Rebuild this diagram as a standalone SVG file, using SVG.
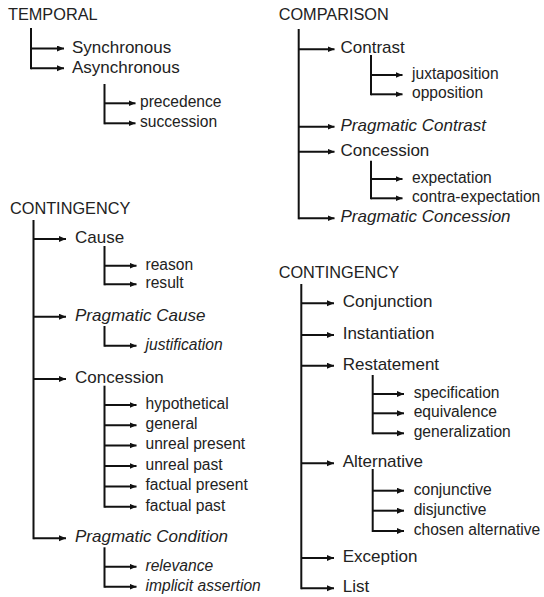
<svg xmlns="http://www.w3.org/2000/svg" width="544" height="597" viewBox="0 0 544 597">
<style>
text{font-family:"Liberation Sans",Arial,sans-serif;fill:#222}
.h{font-size:16.3px}
.m{font-size:17px}
.s{font-size:15.6px}
.i{font-style:italic}
.c path{fill:none;stroke:#111;stroke-width:2}
.c .v{stroke-linecap:square}
</style>
<defs>
<marker id="ah" markerUnits="userSpaceOnUse" markerWidth="8" markerHeight="7" refX="7" refY="3" orient="auto">
<path d="M0,0 L7,3 L0,6 z" fill="#111"/>
</marker>
</defs>
<rect width="544" height="597" fill="#fff"/>
<g class="c" id="connectors">
<!-- TEMPORAL -->
<path class="v" d="M31,29 V68.3"/>
<path d="M31,48.5 H64" marker-end="url(#ah)"/>
<path d="M31,68.3 H64" marker-end="url(#ah)"/>
<path class="v" d="M104.5,85 V123.3"/>
<path d="M104.5,103.3 H135.5" marker-end="url(#ah)"/>
<path d="M104.5,123.3 H135.5" marker-end="url(#ah)"/>
<!-- CONTINGENCY left -->
<path class="v" d="M33.5,221 V538.3"/>
<path d="M33.5,239 H66" marker-end="url(#ah)"/>
<path d="M33.5,316.7 H66" marker-end="url(#ah)"/>
<path d="M33.5,379 H66" marker-end="url(#ah)"/>
<path d="M33.5,538.3 H66" marker-end="url(#ah)"/>
<path class="v" d="M104.5,247 V284.3"/>
<path d="M104.5,265.7 H136.5" marker-end="url(#ah)"/>
<path d="M104.5,284.3 H136.5" marker-end="url(#ah)"/>
<path class="v" d="M104.5,327 V345.7"/>
<path d="M104.5,345.7 H136.5" marker-end="url(#ah)"/>
<path class="v" d="M104.5,386.7 V506.7"/>
<path d="M104.5,405 H136.5" marker-end="url(#ah)"/>
<path d="M104.5,425.3 H136.5" marker-end="url(#ah)"/>
<path d="M104.5,445.5 H136.5" marker-end="url(#ah)"/>
<path d="M104.5,466 H136.5" marker-end="url(#ah)"/>
<path d="M104.5,486.5 H136.5" marker-end="url(#ah)"/>
<path d="M104.5,506.7 H136.5" marker-end="url(#ah)"/>
<path class="v" d="M104.5,548.3 V586.7"/>
<path d="M104.5,566.7 H136.5" marker-end="url(#ah)"/>
<path d="M104.5,586.7 H136.5" marker-end="url(#ah)"/>
<!-- COMPARISON -->
<path class="v" d="M298.7,30 V218.3"/>
<path d="M298.7,49.3 H334.5" marker-end="url(#ah)"/>
<path d="M298.7,126.7 H334.5" marker-end="url(#ah)"/>
<path d="M298.7,151.7 H334.5" marker-end="url(#ah)"/>
<path d="M298.7,218.3 H334.5" marker-end="url(#ah)"/>
<path class="v" d="M371,56 V94.3"/>
<path d="M371,75 H402.5" marker-end="url(#ah)"/>
<path d="M371,94.3 H402.5" marker-end="url(#ah)"/>
<path class="v" d="M371,161.7 V198.3"/>
<path d="M371,179 H402.5" marker-end="url(#ah)"/>
<path d="M371,198.3 H402.5" marker-end="url(#ah)"/>
<!-- CONTINGENCY right -->
<path class="v" d="M301.3,285 V588.3"/>
<path d="M301.3,303.3 H334" marker-end="url(#ah)"/>
<path d="M301.3,335 H334" marker-end="url(#ah)"/>
<path d="M301.3,365.7 H334" marker-end="url(#ah)"/>
<path d="M301.3,463.3 H334" marker-end="url(#ah)"/>
<path d="M301.3,558 H334" marker-end="url(#ah)"/>
<path d="M301.3,588.3 H334" marker-end="url(#ah)"/>
<path class="v" d="M372.7,376 V433.3"/>
<path d="M372.7,394 H404" marker-end="url(#ah)"/>
<path d="M372.7,413.3 H404" marker-end="url(#ah)"/>
<path d="M372.7,433.3 H404" marker-end="url(#ah)"/>
<path class="v" d="M372.7,470 V531"/>
<path d="M372.7,490.7 H404" marker-end="url(#ah)"/>
<path d="M372.7,510.7 H404" marker-end="url(#ah)"/>
<path d="M372.7,531 H404" marker-end="url(#ah)"/>
</g>
<!-- TEMPORAL tree -->
<g id="temporal"><text class="h" x="8" y="20">TEMPORAL</text></g>
<g id="synchronous"><text class="m" x="72" y="52.5">Synchronous</text></g>
<g id="asynchronous"><text class="m" x="72" y="72.5">Asynchronous</text></g>
<g id="precedence"><text class="s" x="140" y="107">precedence</text></g>
<g id="succession"><text class="s" x="140" y="127">succession</text></g>
<!-- CONTINGENCY left tree -->
<g id="contingency-left"><text class="h" x="10" y="214">CONTINGENCY</text></g>
<g id="cause"><text class="m" x="75" y="243">Cause</text></g>
<g id="reason"><text class="s" x="145.5" y="269.5">reason</text></g>
<g id="result"><text class="s" x="145.5" y="288">result</text></g>
<g id="pragmatic-cause"><text class="m i" x="75" y="320.7">Pragmatic Cause</text></g>
<g id="justification"><text class="s i" x="145.5" y="349.5">justification</text></g>
<g id="concession-left"><text class="m" x="75" y="383">Concession</text></g>
<g id="hypothetical"><text class="s" x="145.5" y="408.8">hypothetical</text></g>
<g id="general"><text class="s" x="145.5" y="429">general</text></g>
<g id="unreal-present"><text class="s" x="145.5" y="449.3">unreal present</text></g>
<g id="unreal-past"><text class="s" x="145.5" y="469.8">unreal past</text></g>
<g id="factual-present"><text class="s" x="145.5" y="490.3">factual present</text></g>
<g id="factual-past"><text class="s" x="145.5" y="510.5">factual past</text></g>
<g id="pragmatic-condition"><text class="m i" x="75" y="542.3">Pragmatic Condition</text></g>
<g id="relevance"><text class="s i" x="145.5" y="570.5">relevance</text></g>
<g id="implicit-assertion"><text class="s i" x="145.5" y="590.5">implicit assertion</text></g>
<!-- COMPARISON tree -->
<g id="comparison"><text class="h" x="278.7" y="20">COMPARISON</text></g>
<g id="contrast"><text class="m" x="340.5" y="53.3">Contrast</text></g>
<g id="juxtaposition"><text class="s" x="412" y="78.8">juxtaposition</text></g>
<g id="opposition"><text class="s" x="412" y="98.1">opposition</text></g>
<g id="pragmatic-contrast"><text class="m i" x="340.5" y="130.7">Pragmatic Contrast</text></g>
<g id="concession-right"><text class="m" x="340.5" y="155.7">Concession</text></g>
<g id="expectation"><text class="s" x="412" y="182.8">expectation</text></g>
<g id="contra-expectation"><text class="s" x="412" y="202.1">contra-expectation</text></g>
<g id="pragmatic-concession"><text class="m i" x="340.5" y="222.3">Pragmatic Concession</text></g>
<!-- CONTINGENCY right tree -->
<g id="contingency-right"><text class="h" x="278.7" y="278.3">CONTINGENCY</text></g>
<g id="conjunction"><text class="m" x="342.7" y="307.3">Conjunction</text></g>
<g id="instantiation"><text class="m" x="342.7" y="339">Instantiation</text></g>
<g id="restatement"><text class="m" x="342.7" y="369.7">Restatement</text></g>
<g id="specification"><text class="s" x="413.7" y="397.8">specification</text></g>
<g id="equivalence"><text class="s" x="413.7" y="417.1">equivalence</text></g>
<g id="generalization"><text class="s" x="413.7" y="437.1">generalization</text></g>
<g id="alternative"><text class="m" x="342.7" y="467.3">Alternative</text></g>
<g id="conjunctive"><text class="s" x="413.7" y="494.5">conjunctive</text></g>
<g id="disjunctive"><text class="s" x="413.7" y="514.5">disjunctive</text></g>
<g id="chosen-alternative"><text class="s" x="413.7" y="534.8">chosen alternative</text></g>
<g id="exception"><text class="m" x="342.7" y="562">Exception</text></g>
<g id="list"><text class="m" x="342.7" y="592.3">List</text></g>
</svg>
